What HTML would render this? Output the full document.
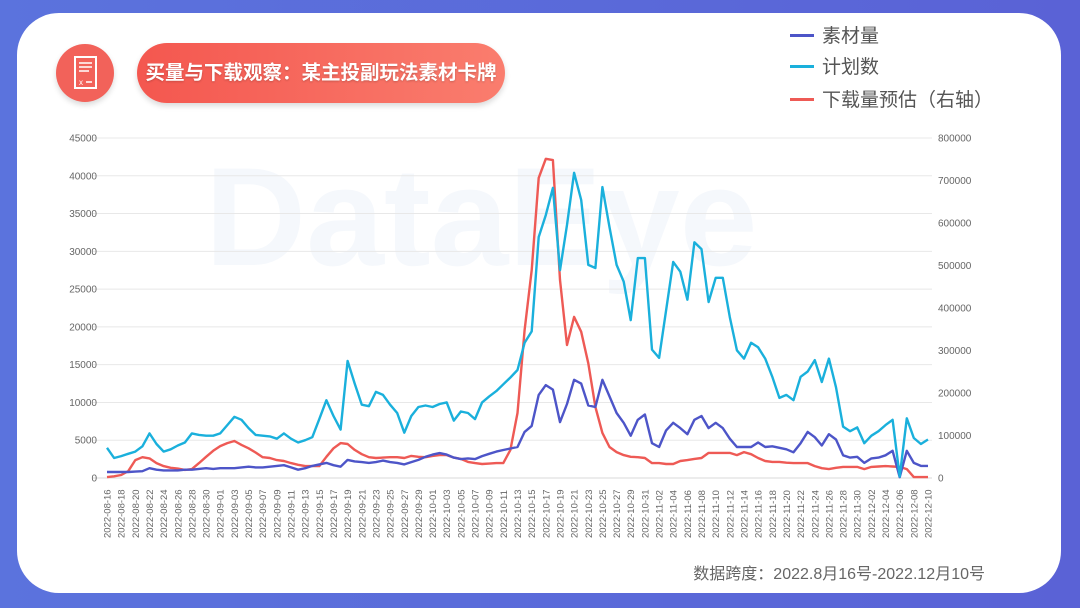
<!DOCTYPE html>
<html><head><meta charset="utf-8">
<style>
html,body{margin:0;padding:0}
body{width:1080px;height:608px;background:linear-gradient(90deg,#5b73dd,#5a62d6);position:relative;overflow:hidden;font-family:"Liberation Sans","Noto Sans CJK SC",sans-serif}
#card{position:absolute;left:17px;top:13px;width:1044px;height:580px;background:#fff;border-radius:42px}
#icon{position:absolute;left:56px;top:44px;width:58px;height:58px;border-radius:50%;background:#f2625a;box-shadow:0 3px 6px rgba(0,0,0,.15)}
#title{position:absolute;left:137px;top:43px;width:368px;height:60px;border-radius:30px;background:linear-gradient(90deg,#f4574f,#fa7d6e);box-shadow:0 3px 6px rgba(0,0,0,.15);color:#fff;font-weight:bold;font-size:19.5px;line-height:60px;text-align:center;white-space:nowrap;letter-spacing:0;font-family:"Liberation Sans","Noto Sans CJK SC",sans-serif;text-shadow:0 1px 2px rgba(0,0,0,.2)}
.leg{position:absolute;left:790px;font-size:19px;color:#555;height:24px;line-height:24px}
.leg i{display:inline-block;width:24px;height:3px;vertical-align:middle;margin-right:8px;margin-top:-3px}
#foot{position:absolute;right:95px;top:560px;font-size:16px;color:#666}
svg{position:absolute;left:0;top:0}
</style></head><body>
<div id="card"></div>
<div id="icon">
<svg width="58" height="58" style="position:absolute;left:0;top:0"><rect x="19" y="13" width="21" height="31" fill="none" stroke="#fff" stroke-width="2"/><line x1="23" y1="19" x2="36" y2="19" stroke="#fff" stroke-width="1.5"/><line x1="23" y1="23" x2="36" y2="23" stroke="#fff" stroke-width="1.5"/><line x1="23" y1="27" x2="33" y2="27" stroke="#fff" stroke-width="1.5"/><text x="23" y="41" fill="#fff" font-size="8">x</text><line x1="30" y1="38" x2="36" y2="38" stroke="#fff" stroke-width="1.5"/></svg>
</div>
<div id="title">买量与下载观察：某主投副玩法素材卡牌</div>
<div class="leg" style="top:25px"><i style="background:#4d55c8"></i>素材量</div>
<div class="leg" style="top:56px"><i style="background:#1ab0dc"></i>计划数</div>
<div class="leg" style="top:89px"><i style="background:#ee5a55"></i>下载量预估（右轴）</div>
<div id="foot">数据跨度：2022.8月16号-2022.12月10号</div>
<svg id="chart" width="1080" height="608"></svg>
<script>
const startDate = '2022-08-16';
const leftTicks = [0,5000,10000,15000,20000,25000,30000,35000,40000,45000];
const rightTicks = [0,100000,200000,300000,400000,500000,600000,700000,800000];
const materialCount = [800,800,800,800,850,900,1300,1100,1000,1000,1000,1100,1100,1200,1300,1200,1300,1300,1300,1400,1500,1400,1400,1500,1600,1700,1400,1100,1300,1600,1800,2000,1700,1500,2400,2200,2100,2000,2100,2300,2100,2000,1800,2100,2400,2800,3100,3300,3100,2700,2500,2600,2500,2900,3200,3500,3700,3900,4100,6100,6900,11000,12300,11700,7400,9800,13000,12500,9600,9400,13000,10800,8600,7300,5600,7700,8400,4600,4100,6300,7300,6600,5800,7700,8200,6600,7300,6600,5200,4100,4100,4100,4700,4100,4200,4000,3800,3400,4600,6100,5400,4300,5800,5100,3000,2700,2800,2000,2600,2700,3000,3600,100,3600,2000,1600,1600];
const planCount = [4000,2650,2900,3200,3500,4200,5900,4500,3500,3800,4300,4700,5900,5700,5600,5600,5900,7000,8100,7700,6600,5700,5600,5500,5200,5900,5200,4700,5000,5400,7800,10300,8200,6400,15500,12500,9700,9500,11400,11000,9700,8600,6000,8200,9400,9600,9400,9800,10000,7600,8800,8600,7800,10000,10800,11500,12400,13300,14300,17900,19400,31900,34800,38400,27500,33500,40400,36800,28200,27800,38500,33200,28200,26000,20900,29100,29100,17000,15900,22200,28600,27300,23600,31200,30300,23300,26500,26500,21300,16900,15800,17900,17300,15800,13400,10600,11000,10300,13400,14100,15600,12700,15800,12000,6800,6200,6700,4600,5600,6200,7000,7700,200,7900,5300,4500,5100];
const downloadEst = [2000,4000,7000,16000,42000,49000,46000,35000,28000,24000,22000,19000,21000,35000,50000,64000,75000,82000,87000,78000,70000,60000,49000,47000,42000,40000,35000,31000,28000,28000,28000,50000,70000,82000,80000,66000,56000,49000,47000,48000,49000,49000,47000,52000,50000,49000,52000,54000,54000,48000,45000,38000,35000,33000,34000,35000,35000,66000,153000,348000,489000,706000,751000,748000,466000,313000,379000,344000,270000,167000,106000,73000,61000,54000,50000,49000,47000,35000,35000,33000,33000,40000,42000,45000,47000,59000,59000,59000,59000,54000,61000,56000,47000,40000,38000,38000,36000,35000,35000,35000,28000,23000,21000,24000,26000,26000,26000,21000,26000,27000,28000,27000,26000,21000,2000,2000,2000];

const NS='http://www.w3.org/2000/svg';
const svg=document.getElementById('chart');
const X0=107,X1=928,Y0=478,Y1=138;
const n=planCount.length;
const xs=i=>X0+(X1-X0)*i/(n-1);
const yl=v=>Y0-(Y0-Y1)*v/45000;
const yr=v=>Y0-(Y0-Y1)*v/800000;
function mk(tag,attrs){const e=document.createElementNS(NS,tag);for(const k in attrs)e.setAttribute(k,attrs[k]);svg.appendChild(e);return e;}
let w=mk('text',{x:205,y:265,'font-size':140,'font-weight':'bold',fill:'#f5f8fc'});w.textContent='DataEye';


leftTicks.forEach(v=>{
  const y=yl(v);
  const g=mk('line',{x1:92,x2:932,y1:y,y2:y,stroke:v===0?'#d8d8d8':'#e8e8e8','stroke-width':1});
  
  
  const t=mk('text',{x:97,y:y+3.5,'text-anchor':'end','font-size':10,fill:'#666'});t.textContent=v;
  
  
});
rightTicks.forEach(v=>{
  const t=mk('text',{x:938,y:yr(v)+3.5,'font-size':10,fill:'#666'});t.textContent=v;
  
  
});
const d0=new Date(startDate+'T00:00:00Z');
for(let i=0;i<n;i+=2){
  const d=new Date(d0.getTime()+i*86400000);
  const s=d.toISOString().slice(0,10);
  const x=xs(i);
  const t=mk('text',{x:0,y:0,transform:`translate(${x+3.5},538) rotate(-90)`,'font-size':9.5,fill:'#666'});t.textContent=s;
  
  
}
function line(arr,f,color,name){
  const p=mk('polyline',{points:arr.map((v,i)=>xs(i).toFixed(1)+','+f(v).toFixed(1)).join(' '),fill:'none',stroke:color,'stroke-width':2.4,'stroke-linejoin':'round'});
  
  
}
line(downloadEst,yr,'#ee5a55','download-estimate-line');
line(materialCount,yl,'#4d55c8','material-count-line');
line(planCount,yl,'#1ab0dc','plan-count-line');
</script>
</body></html>
